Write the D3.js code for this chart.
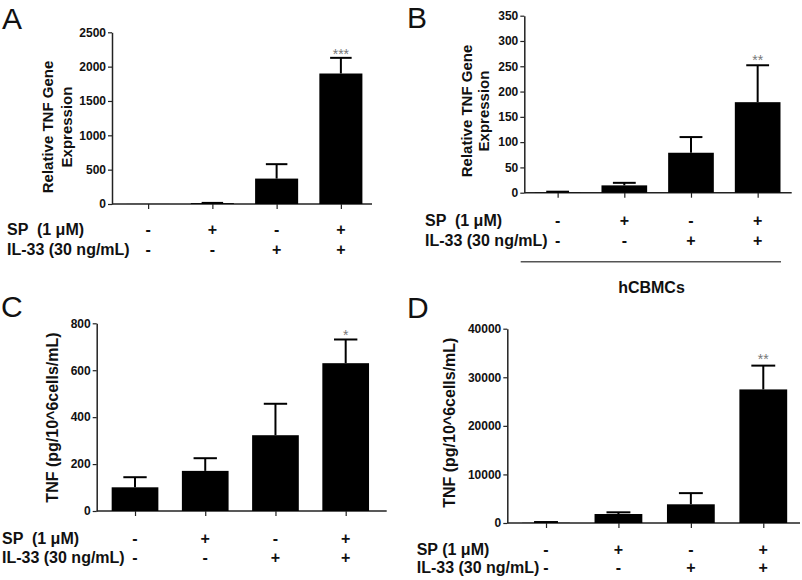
<!DOCTYPE html>
<html><head><meta charset="utf-8">
<script src="https://cdn.jsdelivr.net/npm/d3@7/dist/d3.min.js"></script>
<style>
body{margin:0;background:#fff;}
svg{display:block;}
text{font-family:"Liberation Sans",Arial,sans-serif;}
</style></head><body>
<svg id="c" width="802" height="580"></svg>
<script>
// ---- data ----
const conditions = ["Control", "SP", "IL-33", "SP + IL-33"];
const spSigns = ["-", "+", "-", "+"];
const il33Signs = ["-", "-", "+", "+"];
const spLabelA = "SP  (1 \u03bcM)";
const spLabelD = "SP (1 \u03bcM)";
const il33Label = "IL-33 (30 ng/mL)";

const meanA = [1, 12, 370, 1900];
const semA = [0, 4, 210, 228];
const ticksA = [0, 500, 1000, 1500, 2000, 2500];

const meanB = [0.5, 14.5, 79, 179];
const semB = [1.5, 5, 31, 73];
const ticksB = [0, 50, 100, 150, 200, 250, 300, 350];

const meanC = [101, 171, 323, 630];
const semC = [43, 54, 134, 101];
const ticksC = [0, 200, 400, 600, 800];

const meanD = [40, 1850, 3850, 27500];
const semD = [160, 350, 2300, 4900];
const ticksD = [0, 10000, 20000, 30000, 40000];

const starsA = ["", "", "", "***"];
const starsB = ["", "", "", "**"];
const starsC = ["", "", "", "*"];
const starsD = ["", "", "", "**"];

const titleAB = ["Relative TNF Gene", "Expression"];
const titleCD = ["TNF (pg/10^6cells/mL)"];
const cellLabel = "hCBMCs";

// ---- drawing ----
const svg = d3.select("#c");

function panel(cfg) {
  const g = svg.append("g");
  const y = d3.scaleLinear().domain([0, cfg.ticks[cfg.ticks.length - 1]]).range([cfg.y0, cfg.yTop]);
  const x = d3.scalePoint().domain(conditions).range(cfg.xRange).padding(0.5);
  const bw = x.step() * cfg.barFrac;

  // y axis
  const ya = g.append("g").attr("transform", `translate(${cfg.axisX},0)`)
    .call(d3.axisLeft(y).tickValues(cfg.ticks).tickFormat(d3.format("d")).tickSize(4).tickPadding(2).tickSizeOuter(0));
  ya.select(".domain").attr("stroke", "#222").attr("stroke-width", 1.5);
  ya.selectAll(".tick line").attr("stroke", "#222").attr("stroke-width", 1.2);
  ya.selectAll(".tick text").attr("font-size", 12).attr("font-weight", "bold").attr("fill", "#111")
    .attr("font-family", '"Liberation Sans",Arial,sans-serif');

  // x axis
  const xa = g.append("g").attr("transform", `translate(0,${cfg.y0})`)
    .call(d3.axisBottom(x).tickSize(5).tickFormat("").tickSizeOuter(0));
  xa.select(".domain").attr("d", `M${cfg.axisX},0H${cfg.axisEnd}`).attr("stroke", "#222").attr("stroke-width", 1.5);
  xa.selectAll(".tick line").attr("stroke", "#222").attr("stroke-width", 1.2);

  // bars
  g.selectAll("rect.bar").data(cfg.mean).enter().append("rect")
    .attr("x", (d, i) => x(conditions[i]) - bw / 2)
    .attr("width", bw)
    .attr("y", d => y(d))
    .attr("height", d => cfg.y0 - y(d))
    .attr("fill", "#000");

  // error bars
  const cw = bw * 0.5;
  cfg.mean.forEach((m, i) => {
    const cx = x(conditions[i]);
    const s = cfg.sem[i];
    if (s > 0) {
      g.append("line").attr("x1", cx).attr("x2", cx).attr("y1", y(m)).attr("y2", y(m + s))
        .attr("stroke", "#000").attr("stroke-width", 2);
      g.append("line").attr("x1", cx - cw / 2).attr("x2", cx + cw / 2).attr("y1", y(m + s)).attr("y2", y(m + s))
        .attr("stroke", "#000").attr("stroke-width", 2);
    }
    if (cfg.stars[i]) {
      g.append("text").attr("x", cx).attr("y", y(m + s) + cfg.starDy).attr("text-anchor", "middle")
        .attr("font-size", 14).attr("fill", "#777").text(cfg.stars[i]);
    }
  });

  // y title
  cfg.title.forEach((t, k) => {
    g.append("text")
      .attr("transform", `translate(${cfg.titleX[k]},${cfg.titleY}) rotate(-90)`)
      .attr("text-anchor", "middle").attr("font-size", cfg.titleSize).attr("font-weight", "bold")
      .attr("fill", "#111").text(t);
  });

  // sign rows
  g.append("text").attr("x", cfg.labelX).attr("y", cfg.row1).attr("font-size", 16).attr("font-weight", "bold")
    .attr("fill", "#111").style("white-space", "pre").text(cfg.spLabel);
  g.append("text").attr("x", cfg.labelX).attr("y", cfg.row2).attr("font-size", 16).attr("font-weight", "bold")
    .attr("fill", "#111").text(il33Label);
  conditions.forEach((c, i) => {
    g.append("text").attr("x", x(c)).attr("y", cfg.row1).attr("text-anchor", "middle")
      .attr("font-size", 16).attr("font-weight", "bold").attr("fill", "#111").text(spSigns[i]);
    g.append("text").attr("x", x(c)).attr("y", cfg.row2).attr("text-anchor", "middle")
      .attr("font-size", 16).attr("font-weight", "bold").attr("fill", "#111").text(il33Signs[i]);
  });

  // panel letter
  svg.append("text").attr("x", cfg.letterX).attr("y", cfg.letterY).attr("font-size", 30)
    .attr("fill", "#111").text(cfg.letter);
  return x;
}

panel({letter: "A", letterX: 2, letterY: 29, mean: meanA, sem: semA, ticks: ticksA, stars: starsA, starDy: 1,
  axisX: 112, y0: 204, yTop: 32.3, xRange: [116, 373], axisEnd: 372, barFrac: 0.67,
  title: titleAB, titleX: [53, 72], titleY: 127, titleSize: 15,
  labelX: 7, row1: 235, row2: 255, spLabel: spLabelA});

panel({letter: "B", letterX: 407, letterY: 28, mean: meanB, sem: semB, ticks: ticksB, stars: starsB, starDy: 0,
  axisX: 524.3, y0: 192.7, yTop: 15.7, xRange: [524.3, 791], axisEnd: 791.7, barFrac: 0.685,
  title: titleAB, titleX: [471.5, 489], titleY: 111, titleSize: 15,
  labelX: 425, row1: 225.5, row2: 245.5, spLabel: spLabelA});

panel({letter: "C", letterX: 1, letterY: 317, mean: meanC, sem: semC, ticks: ticksC, stars: starsC, starDy: 1,
  axisX: 96.7, y0: 511, yTop: 323.3, xRange: [99.9, 380.8], axisEnd: 386.7, barFrac: 0.665,
  title: titleCD, titleX: [58], titleY: 417.5, titleSize: 16,
  labelX: 2, row1: 544, row2: 563, spLabel: spLabelA});

panel({letter: "D", letterX: 407, letterY: 318, mean: meanD, sem: semD, ticks: ticksD, stars: starsD, starDy: -2,
  axisX: 507.3, y0: 523, yTop: 328.7, xRange: [509.8, 799.5], axisEnd: 800, barFrac: 0.66,
  title: titleCD, titleX: [455], titleY: 422.7, titleSize: 16,
  labelX: 416.7, row1: 555, row2: 573.3, spLabel: spLabelD});

// hCBMCs bracket under panel B
svg.append("line").attr("x1", 520.7).attr("x2", 781).attr("y1", 261.7).attr("y2", 261.7)
  .attr("stroke", "#555").attr("stroke-width", 1.5);
svg.append("text").attr("x", 651.5).attr("y", 293).attr("text-anchor", "middle").attr("font-size", 16)
  .attr("font-weight", "bold").attr("fill", "#111").text(cellLabel);
</script>
</body></html>
